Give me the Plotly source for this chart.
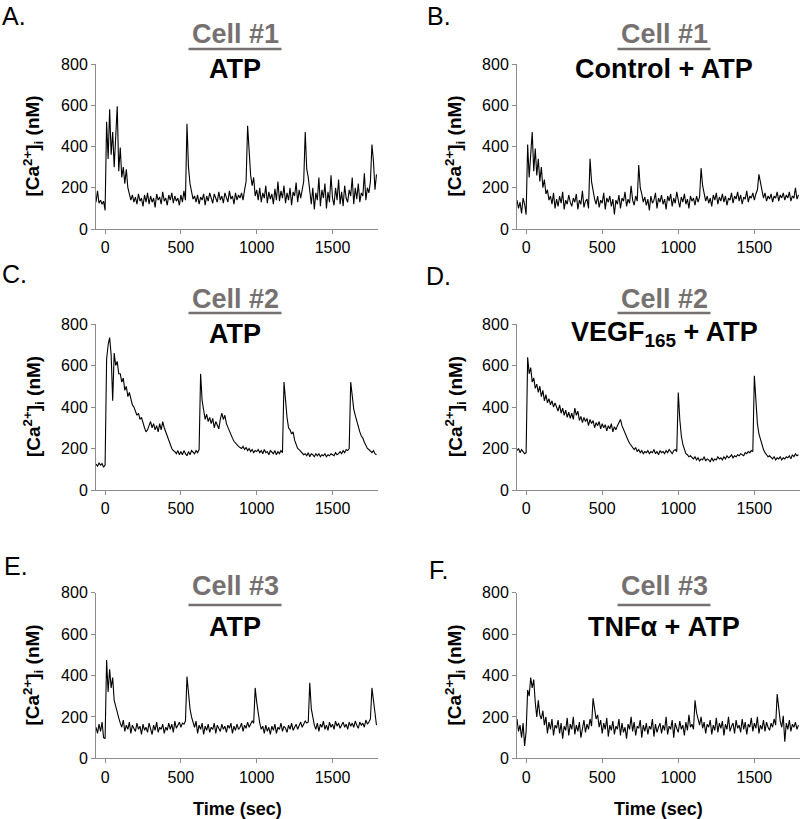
import plotly.graph_objects as go

# ---------------- data (10 s sampling) ----------------
time_sec = list(range(-60, 1800, 10))

cell1_atp = [
    130, 185, 125, 140, 120, 135,
    90, 520, 340, 580, 360, 470, 300, 440, 595, 280,
    395, 250, 300, 220, 290, 200, 175, 140, 165, 130,
    155, 120, 170, 135, 150, 110, 165, 130, 175, 120,
    160, 130, 150, 105, 170, 140, 155, 120, 180, 135,
    150, 115, 165, 140, 175, 125, 160, 135, 150, 115,
    165, 130, 185, 140, 510, 300, 220, 170, 145, 160,
    130, 165, 120, 155, 140, 170, 115, 160, 135, 175,
    145, 125, 170, 150, 130, 180, 140, 160, 125, 175,
    150, 130, 185, 145, 160, 120, 175, 140, 165, 150,
    175, 140, 190, 230, 500, 380, 260, 210, 250, 160,
    190, 140, 200, 130, 175, 150, 210, 125, 180, 145,
    170, 120, 195, 140, 230, 135, 185, 150, 210, 125,
    175, 140, 200, 115, 180, 160, 225, 130, 190, 150,
    200, 230, 470, 290, 250, 180, 120, 200, 95, 175,
    140, 250, 110, 190, 150, 220, 100, 180, 130, 260,
    150, 115, 200, 140, 240, 120, 180, 110, 210, 150,
    130, 190, 160, 250, 120, 200, 145, 220, 130, 175,
    160, 270, 140, 200, 175, 230, 410, 330, 190, 265,
]

cell1_control_atp = [
    140, 100, 130, 75, 150, 120,
    70, 410, 250, 360, 470, 280, 390, 260, 340, 230,
    300, 200, 240, 170, 190, 140, 160, 120, 175, 100,
    145, 110, 160, 125, 180, 95, 140, 120, 165, 130,
    110, 150, 130, 170, 95, 140, 120, 185, 105, 135,
    145, 100, 340, 230, 180, 145, 120, 160, 105, 140,
    125, 175, 95, 150, 130, 160, 110, 145, 70, 140,
    120, 165, 100, 150, 135, 180, 110, 145, 125, 210,
    140, 115, 160, 135, 310, 200, 170, 130, 155, 115,
    145, 90, 160, 125, 140, 175, 100, 150, 130, 165,
    120, 145, 95, 160, 135, 170, 110, 150, 125, 180,
    140, 105, 155, 130, 170, 120, 145, 100, 160, 135,
    150, 115, 160, 130, 155, 295, 210, 170, 135, 160,
    125, 150, 110, 165, 140, 175, 120, 155, 135, 170,
    130, 160, 115, 150, 140, 175, 125, 160, 145, 180,
    135, 165, 120, 155, 145, 185, 130, 160, 150, 175,
    140, 170, 190, 265, 220, 180, 150, 175, 135, 160,
    145, 170, 130, 160, 150, 180, 135, 165, 150, 175,
    140, 165, 150, 180, 135, 160, 150, 200, 145, 165,
]

cell2_atp = [
    125, 115, 130, 120, 128, 110,
    120, 630, 700, 735, 650, 430, 660, 600, 620, 560,
    560, 520, 540, 480, 500, 450, 470, 430, 410, 400,
    380, 360, 370, 340, 350, 320, 300, 280, 290, 310,
    330, 300, 320, 290, 310, 280, 320, 290, 330, 300,
    280, 260, 240, 215, 200, 190, 185, 175, 190, 170,
    185, 170, 190, 175, 165, 185, 170, 190, 180, 175,
    190, 180, 195, 560, 430, 370, 340, 365, 330, 350,
    320, 345, 300, 330, 310, 295, 340, 370, 340, 360,
    320, 300, 280, 260, 250, 235, 225, 215, 210, 205,
    200, 210, 195, 205, 190, 200, 185, 195, 180, 190,
    185, 195, 180, 190, 175, 195, 180, 185, 170, 190,
    180, 175, 190, 170, 185, 175, 190, 180, 520, 420,
    350, 300, 290, 270, 280, 240, 220, 200, 195, 185,
    180, 170, 175, 165, 180, 160, 175, 170, 160, 175,
    165, 175, 160, 170, 165, 175, 160, 170, 165, 175,
    170, 165, 180, 170, 175, 185, 175, 190, 180, 195,
    190, 200, 520, 450, 390, 360, 330, 300, 280, 260,
    250, 230, 215, 200, 195, 185, 180, 190, 175, 170,
]

cell2_vegf_atp = [
    190, 200, 180, 195, 185, 175,
    180, 640, 560, 590, 520, 540, 490, 510, 470, 500,
    450, 480, 430, 460, 420, 440, 410, 430, 400, 420,
    400, 380, 410, 370, 395, 360, 385, 350, 375, 345,
    370, 340, 395, 360, 380, 335, 355, 325, 350, 330,
    345, 310, 340, 320, 335, 300, 325, 310, 330, 295,
    320, 300, 315, 285, 310, 295, 320, 280, 305, 290,
    310, 330, 340, 310, 290, 270, 255, 240, 225, 215,
    210, 195, 205, 185, 195, 180, 190, 175, 185, 180,
    190, 175, 185, 180, 195, 175, 185, 170, 190, 180,
    185, 175, 190, 180, 195, 185, 175, 190, 195, 185,
    470, 340, 260, 220, 195, 175, 170, 160, 165, 155,
    150, 160, 145, 155, 140, 150, 145, 160, 140, 150,
    145, 135, 155, 140, 150, 145, 160, 150, 155, 145,
    160, 150, 165, 155, 160, 170, 155, 165, 160, 170,
    165, 175, 170, 165, 180, 175, 185, 180, 190, 185,
    550, 400, 320, 270, 240, 210, 195, 180, 170, 160,
    165, 155, 150, 160, 145, 155, 150, 160, 145, 155,
    150, 160, 155, 165, 150, 170, 160, 175, 165, 170,
]

cell3_atp = [
    150, 120, 165, 130, 175, 100,
    95, 475, 320, 430, 340, 390, 280, 250, 210, 195,
    170, 150, 185, 130, 160, 140, 175, 120, 160, 145,
    130, 170, 140, 155, 115, 165, 135, 150, 125, 170,
    140, 115, 160, 135, 175, 125, 150, 140, 165, 120,
    150, 135, 170, 140, 165, 125, 180, 145, 160, 175,
    150, 170, 165, 180, 395, 300, 240, 200, 170, 150,
    180, 120, 160, 140, 170, 115, 155, 135, 165, 125,
    150, 140, 170, 120, 160, 145, 130, 165, 140, 155,
    125, 160, 145, 170, 120, 155, 135, 165, 140, 150,
    170, 130, 160, 145, 175, 150, 165, 180, 170, 340,
    270, 210, 170, 140, 155, 120, 160, 130, 150, 115,
    155, 135, 165, 120, 150, 140, 170, 130, 155, 145,
    125, 160, 140, 170, 135, 150, 165, 140, 160, 175,
    150, 165, 180, 170, 175, 365, 240, 200, 160, 140,
    170, 130, 165, 150, 180, 140, 160, 135, 175, 150,
    165, 140, 180, 155, 170, 145, 160, 175, 150, 165,
    140, 175, 155, 170, 150, 180, 160, 145, 175, 160,
    170, 150, 185, 165, 175, 190, 340, 290, 220, 160,
]

cell3_tnf_atp = [
    190, 130, 160, 100, 170, 60,
    130, 330, 300, 390, 340, 380, 270, 200, 280, 210,
    190, 230, 160, 200, 120, 175, 140, 190, 110, 160,
    145, 185, 120, 170, 95, 155, 135, 195, 110, 165,
    140, 200, 115, 160, 130, 175, 100, 150, 185, 125,
    165, 140, 190, 155, 290, 240, 190, 210, 150, 185,
    120, 170, 140, 195, 105, 160, 135, 180, 115, 155,
    140, 190, 110, 170, 125, 150, 95, 165, 140, 200,
    130, 175, 110, 155, 145, 185, 100, 160, 130, 170,
    115, 155, 140, 190, 105, 165, 125, 150, 170, 120,
    160, 135, 200, 115, 155, 140, 185, 100, 170, 145,
    125, 180, 140, 160, 110, 175, 135, 210, 150, 165,
    140, 280, 220, 190, 160, 200, 145, 175, 120, 165,
    150, 185, 115, 160, 135, 195, 125, 170, 145, 180,
    110, 165, 140, 200, 130, 155, 170, 120, 185, 145,
    160, 125, 190, 140, 175, 115, 165, 150, 195, 130,
    170, 145, 200, 120, 160, 140, 185, 130, 175, 150,
    135, 170, 150, 190, 160, 310, 230, 180, 150, 205,
    80, 170, 140, 185, 130, 165, 150, 175, 140, 160,
]

panel_letters = ["A.", "B.", "C.", "D.", "E.", "F."]
cell_labels = ["Cell #1", "Cell #1", "Cell #2", "Cell #2", "Cell #3", "Cell #3"]
conditions = ["ATP", "Control + ATP", "ATP", "VEGF<sub>165</sub> + ATP", "ATP", "TNF\u03b1 + ATP"]
series = [cell1_atp, cell1_control_atp, cell2_atp, cell2_vegf_atp, cell3_atp, cell3_tnf_atp]

x_ticks = [0, 500, 1000, 1500]
y_ticks = [0, 200, 400, 600, 800]

# ---------------- layout ----------------
W, H = 800, 819
FONT = "Liberation Sans, Arial, sans-serif"
GRAY_AX = "#8c8c8c"
GRAY_TXT = "#767171"


def px(x):
    return x / W


def py(y):
    return 1 - y / H


col_dom = [[96 / W, 378 / W], [517 / W, 1.0]]
row_dom = [[py(229), py(64)], [py(490), py(324)], [py(758.3), py(592.7)]]

fig = go.Figure()
layout = dict(
    width=W, height=H,
    margin=dict(l=0, r=0, t=0, b=0, pad=0, autoexpand=False),
    paper_bgcolor="white", plot_bgcolor="white",
    showlegend=False,
    font=dict(family=FONT, color="black"),
)

for i, ys in enumerate(series):
    r, c = divmod(i, 2)
    n = i + 1
    xa = "xaxis" if n == 1 else f"xaxis{n}"
    ya = "yaxis" if n == 1 else f"yaxis{n}"
    xr = "x" if n == 1 else f"x{n}"
    yr = "y" if n == 1 else f"y{n}"
    fig.add_trace(go.Scatter(x=time_sec, y=ys, mode="lines",
                             line=dict(color="black", width=1.1),
                             xaxis=xr, yaxis=yr, hoverinfo="skip"))
    layout[xa] = dict(domain=col_dom[c], anchor=yr, range=[-60, 1800],
                      tickvals=x_ticks, showline=True, linecolor=GRAY_AX,
                      linewidth=1, ticks="outside", ticklen=4, tickcolor=GRAY_AX,
                      showgrid=False, zeroline=False, automargin=False,
                      tickfont=dict(size=16, family=FONT, color="black"))
    layout[ya] = dict(domain=row_dom[r], anchor=xr, range=[0, 800],
                      tickvals=y_ticks, showline=True, linecolor=GRAY_AX,
                      linewidth=1, ticks="outside", ticklen=4, tickcolor=GRAY_AX,
                      showgrid=False, zeroline=False, automargin=False,
                      tickfont=dict(size=16, family=FONT, color="black"))

fig.update_layout(**layout)

ann = []
shapes = []
# (x px, y px, anchor) for panel letters
letter_pos = [(0, 0, "top"), (425, 0, "top"), (0, 274, "middle"),
              (424, 276, "middle"), (2, 566, "middle"), (427, 570, "middle")]
col_center = [235, 664]
cell_y = [34, 299, 586]
under_y = [49, 313, 605]
cond_y = [69, 334, 627]
ytitle_x = [33, 455]

for i in range(6):
    r, c = divmod(i, 2)
    lx, ly, anc = letter_pos[i]
    ann.append(dict(text=panel_letters[i], x=px(lx), y=py(ly), xref="paper", yref="paper",
                    xanchor="left", yanchor=anc, showarrow=False,
                    font=dict(size=25, family=FONT, color="black")))
    ann.append(dict(text=f"<b>{cell_labels[i]}</b>", x=px(col_center[c]), y=py(cell_y[r]),
                    xref="paper", yref="paper", xanchor="center", yanchor="middle",
                    showarrow=False, font=dict(size=27, family=FONT, color=GRAY_TXT)))
    shapes.append(dict(type="line", xref="paper", yref="paper",
                       x0=px(col_center[c] - 46.5), x1=px(col_center[c] + 46.5),
                       y0=py(under_y[r]), y1=py(under_y[r]),
                       line=dict(color=GRAY_TXT, width=2.5)))
    ann.append(dict(text=f"<b>{conditions[i]}</b>", x=px(col_center[c]), y=py(cond_y[r]),
                    xref="paper", yref="paper", xanchor="center", yanchor="middle",
                    showarrow=False, font=dict(size=27, family=FONT, color="black")))
    yc = (row_dom[r][0] + row_dom[r][1]) / 2
    ann.append(dict(text="<b>[Ca<sup>2+</sup>]<sub>i</sub> (nM)</b>", x=px(ytitle_x[c]), y=yc,
                    xref="paper", yref="paper", xanchor="center", yanchor="middle",
                    textangle=-90, showarrow=False,
                    font=dict(size=19, family=FONT, color="black")))

for c in range(2):
    ann.append(dict(text="<b>Time (sec)</b>", x=px([237, 658][c]), y=py(809),
                    xref="paper", yref="paper", xanchor="center", yanchor="middle",
                    showarrow=False, font=dict(size=18, family=FONT, color="black")))

fig.update_layout(annotations=ann, shapes=shapes)
fig.write_html(
    "out.html",
    config={"displayModeBar": False, "staticPlot": True},
    post_script="document.body.style.margin='0';document.body.style.overflow='hidden';",
)
